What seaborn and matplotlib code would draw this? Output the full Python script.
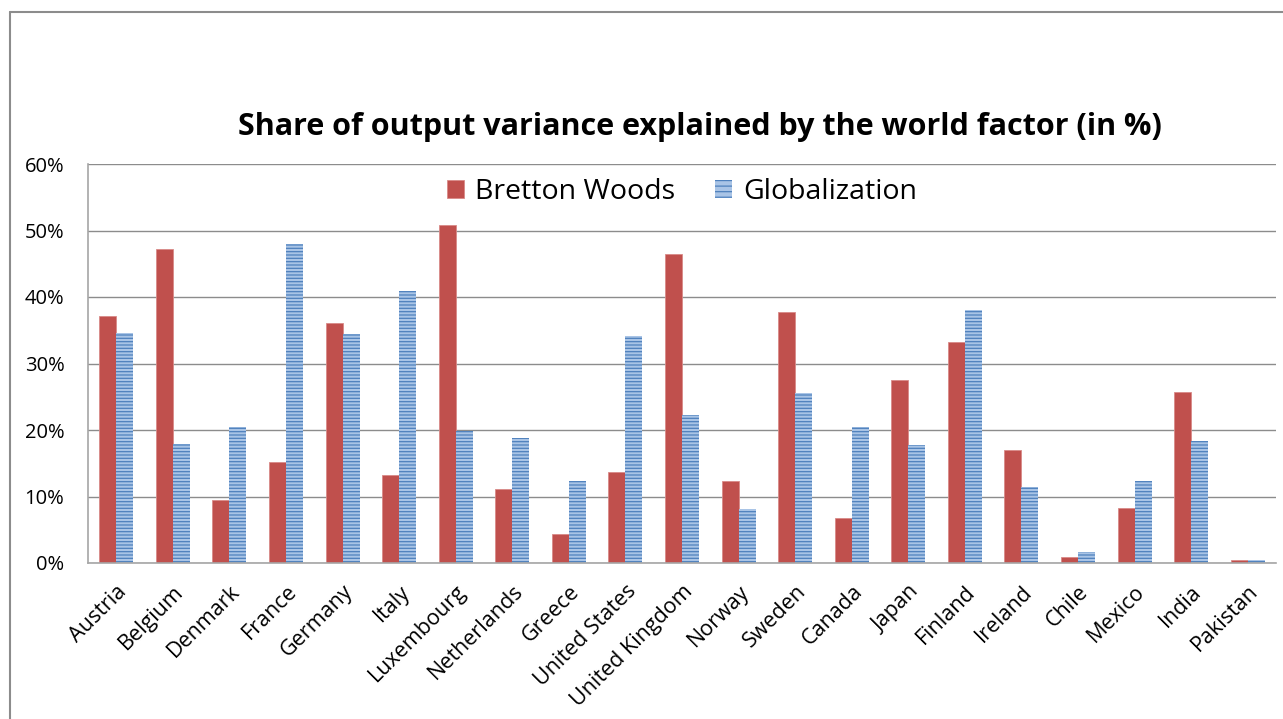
import matplotlib
matplotlib.use("Agg")
import matplotlib.pyplot as plt
from matplotlib.patches import Patch
from matplotlib.lines import Line2D
import seaborn as sns
import pandas as pd

countries = ["Austria", "Belgium", "Denmark", "France", "Germany", "Italy", "Luxembourg",
             "Netherlands", "Greece", "United States", "United Kingdom", "Norway", "Sweden",
             "Canada", "Japan", "Finland", "Ireland", "Chile", "Mexico", "India", "Pakistan"]
bretton_woods = [37.2, 47.2, 9.5, 15.2, 36.1, 13.2, 50.9, 11.1, 4.4, 13.7, 46.4, 12.4,
                 37.8, 6.8, 27.5, 33.3, 17.0, 0.9, 8.3, 25.7, 0.5]
globalization = [34.6, 17.9, 20.5, 48.0, 34.4, 40.9, 19.9, 18.8, 12.3, 34.2, 22.3, 8.1,
                 25.6, 20.5, 17.7, 38.0, 11.4, 1.7, 12.3, 18.3, 0.5]
series = ["Bretton Woods", "Globalization"]
yticks = [0, 10, 20, 30, 40, 50, 60]

RED = "#C0504D"
BLUE_FACE = "#A9C4E6"
BLUE_LINE = "#4F81BD"

df = pd.DataFrame({
    "country": countries * 2,
    "value": bretton_woods + globalization,
    "period": [series[0]] * len(countries) + [series[1]] * len(countries),
})

sns.set_style("white")
plt.rcParams["font.family"] = ["Open Sans", "DejaVu Sans"]
plt.rcParams["hatch.linewidth"] = 0.9
plt.rcParams["text.color"] = "black"
plt.rcParams["xtick.color"] = "black"
plt.rcParams["ytick.color"] = "black"

fig = plt.figure(figsize=(12.83, 7.19), dpi=100)
ax = fig.add_axes([88 / 1283, 1 - 563 / 719, (1276 - 88) / 1283, (563 - 164) / 719])

sns.barplot(data=df, x="country", y="value", hue="period", order=countries,
            hue_order=series, palette=[RED, BLUE_FACE], saturation=1, width=0.6,
            ax=ax, legend=False, errorbar=None)

for bar in ax.containers[0]:
    bar.set_edgecolor("#D98A88")
    bar.set_linewidth(0.6)
for bar in ax.containers[1]:
    bar.set_hatch("-----")
    bar.set_edgecolor(BLUE_LINE)
    bar.set_linewidth(0.0)

ax.set_ylim(0, 60)
ax.set_xlim(-0.5, len(countries) - 0.5)
ax.set_yticks(yticks)
ax.set_yticklabels([f"{v}%" for v in yticks], fontsize=14.5)
ax.yaxis.grid(True, color="#8C8C8C", linewidth=1.0)
ax.set_axisbelow(True)
ax.tick_params(axis="y", length=0, pad=17)
ax.tick_params(axis="x", length=0, pad=13)
ax.set_xticks(range(len(countries)))
ax.set_xticklabels(countries, rotation=45, ha="right", rotation_mode="anchor", fontsize=15.5)
ax.set_xlabel("")
ax.set_ylabel("")
for s in ["top", "right"]:
    ax.spines[s].set_visible(False)
for s in ["left", "bottom"]:
    ax.spines[s].set_color("#A6A6A6")
    ax.spines[s].set_linewidth(1.2)

handles = [Patch(facecolor=RED, edgecolor="#D98A88", linewidth=0.6),
           Patch(facecolor=BLUE_FACE, edgecolor=BLUE_LINE, hatch="---", linewidth=0)]
ax.legend(handles, series, loc="upper center", bbox_to_anchor=(0.5, 1.03), ncol=2,
          frameon=False, fontsize=20.5, handlelength=0.6, handleheight=0.6,
          columnspacing=1.4, handletextpad=0.4)

fig.text(700 / 1283, 1 - 127 / 719, "Share of output variance explained by the world factor (in %)",
         ha="center", va="center", fontsize=22, fontweight="bold")

fig.add_artist(Line2D([10 / 1283, 10 / 1283], [0, 1 - 12 / 719], transform=fig.transFigure,
                      color="#8C8C8C", linewidth=1.5))
fig.add_artist(Line2D([10 / 1283, 1], [1 - 12 / 719, 1 - 12 / 719], transform=fig.transFigure,
                      color="#8C8C8C", linewidth=1.5))

fig.savefig("out.png", dpi=100)
